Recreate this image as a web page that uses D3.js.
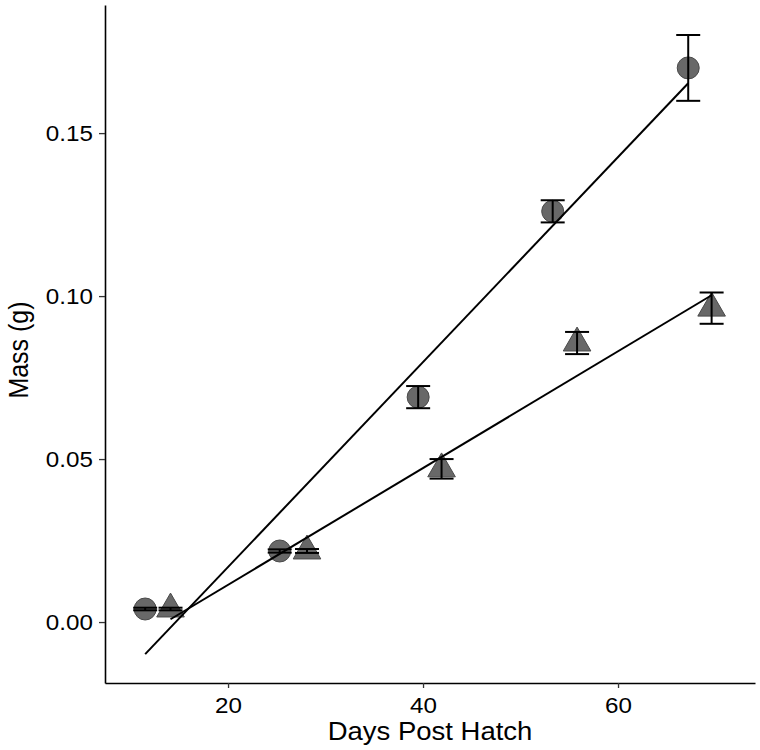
<!DOCTYPE html>
<html lang="en">
  <head>
    <meta charset="UTF-8" />
    <title>Mass vs Days Post Hatch</title>
    <script src="https://cdn.jsdelivr.net/npm/d3@7"></script>
    <style>
      body { margin: 0; background: #fff; }
      text { font-family: "Liberation Sans", Arial, sans-serif; }
    </style>
  </head>
  <body>
    <script>
      // group 1 (circles)
      const circleDays = [11.5, 25.3, 39.5, 53.3, 67.2];
      const circleMass = [0.004, 0.0218, 0.069, 0.126, 0.170];
      const circleSE = [0.0004, 0.0005, 0.0034, 0.0034, 0.0101];
      // group 2 (triangles)
      const triDays = [14.1, 28.1, 41.9, 55.8, 69.6];
      const triMass = [0.004, 0.0218, 0.047, 0.0856, 0.0963];
      const triSE = [0.0004, 0.0006, 0.003, 0.0034, 0.0048];
      // fitted lines: [intercept, slope]
      const circleFit = [-0.046, 0.003144];
      const triFit = [-0.0244, 0.001791];

      const xTicks = [20, 40, 60];
      const yTicks = [0, 0.05, 0.1, 0.15];

      const width = 760;
      const height = 750;
      const mLeft = 105, mRight = 755, mTop = 5, mBottom = 683;
      const stretch = 1.1; // the source text is a bit wider than Arial

      const svg = d3
        .select("body")
        .append("svg")
        .attr("width", width)
        .attr("height", height);

      const x = d3.scaleLinear().domain([7.38, 74.05]).range([mLeft, mRight]);
      const y = d3.scaleLinear().domain([-0.0187, 0.1893]).range([mBottom, mTop]);

      // axes
      const xAxis = svg
        .append("g")
        .attr("transform", `translate(0,${mBottom})`)
        .call(d3.axisBottom(x).tickValues(xTicks).tickSize(5).tickSizeOuter(0).tickPadding(9));
      const yAxis = svg
        .append("g")
        .attr("transform", `translate(${mLeft},0)`)
        .call(
          d3.axisLeft(y).tickValues(yTicks).tickSize(6).tickSizeOuter(0).tickPadding(5)
            .tickFormat(d3.format(".2f"))
        );
      [xAxis, yAxis].forEach((g) => {
        g.select(".domain").attr("stroke", "#000").attr("stroke-width", 1.6);
        g.selectAll(".tick line").attr("stroke", "#333").attr("stroke-width", 1.3);
        g.selectAll(".tick text")
          .attr("fill", "#000")
          .attr("transform", `scale(${stretch},1)`)
          .style("font-size", "22px")
          .style("font-family", "Liberation Sans, Arial, sans-serif");
      });

      svg
        .append("text")
        .attr("transform", `translate(${(mLeft + mRight) / 2},740) scale(${stretch},1)`)
        .attr("text-anchor", "middle")
        .style("font-size", "25px")
        .text("Days Post Hatch");
      svg
        .append("text")
        .attr("transform", `translate(28,350) rotate(-90) scale(1,${stretch})`)
        .attr("text-anchor", "middle")
        .style("font-size", "25px")
        .text("Mass (g)");

      const circles = circleDays.map((d, i) => ({ day: d, mass: circleMass[i], se: circleSE[i] }));
      const tris = triDays.map((d, i) => ({ day: d, mass: triMass[i], se: triSE[i] }));

      // points
      svg
        .selectAll("circle.pt")
        .data(circles)
        .enter()
        .append("circle")
        .attr("class", "pt")
        .attr("cx", (d) => x(d.day))
        .attr("cy", (d) => y(d.mass))
        .attr("r", 11)
        .attr("fill", "#686868")
        .attr("stroke", "#4a4a4a")
        .attr("stroke-width", 1);

      const tri = d3.symbol().type(d3.symbolTriangle).size(330);
      svg
        .selectAll("path.tri")
        .data(tris)
        .enter()
        .append("path")
        .attr("class", "tri")
        .attr("d", tri)
        .attr("transform", (d) => `translate(${x(d.day)},${y(d.mass)})`)
        .attr("fill", "#686868")
        .attr("stroke", "#4a4a4a")
        .attr("stroke-width", 1);

      // error bars
      const capHalf = 12;
      const bars = svg.append("g").attr("stroke", "#000").attr("stroke-width", 2);
      const allPts = circles.concat(tris);
      bars
        .selectAll("line.v")
        .data(allPts)
        .enter()
        .append("line")
        .attr("x1", (d) => x(d.day))
        .attr("x2", (d) => x(d.day))
        .attr("y1", (d) => y(d.mass - d.se))
        .attr("y2", (d) => y(d.mass + d.se));
      ["top", "bot"].forEach((k) => {
        bars
          .selectAll("line." + k)
          .data(allPts)
          .enter()
          .append("line")
          .attr("class", k)
          .attr("x1", (d) => x(d.day) - capHalf)
          .attr("x2", (d) => x(d.day) + capHalf)
          .attr("y1", (d) => y(k === "top" ? d.mass + d.se : d.mass - d.se))
          .attr("y2", (d) => y(k === "top" ? d.mass + d.se : d.mass - d.se));
      });

      // regression lines
      const line = d3
        .line()
        .x((d) => x(d[0]))
        .y((d) => y(d[1]));
      [
        [circleDays, circleFit],
        [triDays, triFit],
      ].forEach(([days, fit]) => {
        const ext = d3.extent(days);
        svg
          .append("path")
          .datum(ext.map((d) => [d, fit[0] + fit[1] * d]))
          .attr("fill", "none")
          .attr("stroke", "#000")
          .attr("stroke-width", 2)
          .attr("d", line);
      });
    </script>
  </body>
</html>
